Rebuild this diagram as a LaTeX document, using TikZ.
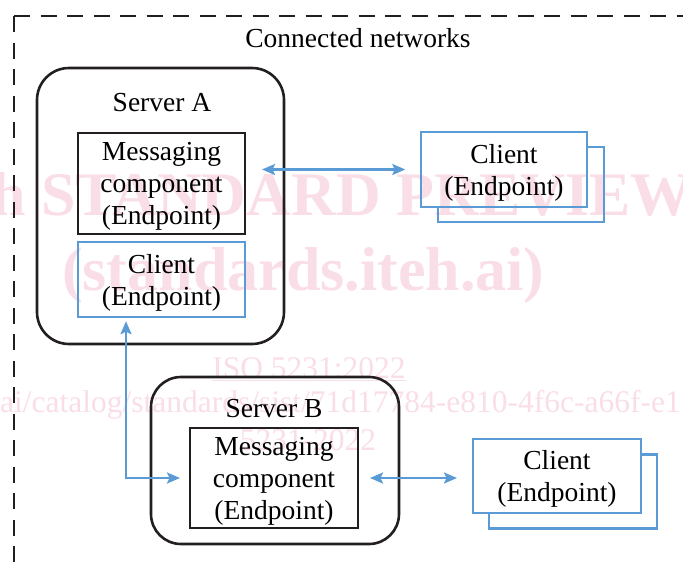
\documentclass[tikz,border=0pt]{standalone}
\usepackage{fontspec}
\setmainfont{Liberation Serif}
\usetikzlibrary{arrows.meta}
\definecolor{linkblue}{RGB}{91,155,213}
\definecolor{ink}{RGB}{35,31,32}
\definecolor{wmpink}{RGB}{250,222,231}

\begin{document}
\begin{tikzpicture}[x=1pt,y=-1pt,
  lbl/.style={font=\fontsize{27.5}{32}\selectfont, align=center, inner sep=0pt},
  boxtext/.style={lbl, text depth=-3pt},
  server/.style={draw=ink, line width=2.6pt, rounded corners=32pt, inner sep=0pt},
  msgbox/.style={draw=ink, line width=2.8pt, inner sep=0pt, boxtext},
  clientbox/.style={draw=linkblue, line width=2.4pt, inner sep=0pt, boxtext},
  shadowbox/.style={inner sep=0pt, outer sep=0pt},
  stack/.style={draw=linkblue, line width=2.4pt, line join=miter},
  link/.style={draw=linkblue, line width=2.4pt, >={Stealth[length=13pt,width=11pt,inset=2.5pt]}, <->},
  frame/.style={draw=ink, line width=2.6pt, dash pattern=on 16pt off 10.5pt},
  wm/.style={text=wmpink, inner sep=0pt},
  wmbig/.style={wm, font=\fontsize{62}{62}\selectfont\bfseries},
  wmsmall/.style={wm, font=\fontsize{31.5}{32}\selectfont},
]
\useasboundingbox (0,0) rectangle (683,571);

% background watermark
\begin{scope}
  \clip (0,0) rectangle (683,571);
  \node[wmbig, anchor=base west] (wm1) at (41,215) {\llap{iTeh }STANDARD PREVIEW};
  \node[wmbig, anchor=base west] (wm2) at (62,290) {(standards.iteh.ai)};
  \node[wmsmall, anchor=base] (wm3) at (309,378) {\underline{ISO 5231:2022}};
  \node[wmsmall, anchor=base west] (wm4) at (0,412) {\llap{https://standards.iteh.}ai/catalog/standards/sist/71d17784-e810-4f6c-a66f-e1};
  \node[wmsmall, anchor=base] (wm5) at (308,450) {5231-2022};
\end{scope}

% dashed outline of the connected networks
\coordinate (corner) at (14,16);
\coordinate (frameR) at (700,16);
\coordinate (frameB) at (14,600);
\draw[frame] (corner) -- (frameR);
\draw[frame] (corner) -- (frameB);
\node[lbl] (title) at (358,38) {Connected networks};

% Server A
\node[server, minimum width=247pt, minimum height=276pt] (serverA) at (160.5,206) {};
\node[lbl] (serverAlbl) at (162,103) {Server A};
\node[msgbox, minimum width=167pt, minimum height=101pt] (msgA) at (161.5,183.5)
  {Messaging\\component\\(Endpoint)};
\node[clientbox, minimum width=167pt, minimum height=75pt] (clientA) at (161.5,279.5)
  {Client\\(Endpoint)};

% stacked clients, upper right
\node[shadowbox, minimum width=166pt, minimum height=75pt] (clientTRb) at (521,184.5) {};
\node[clientbox, minimum width=166pt, minimum height=75pt] (clientTR) at (504,169.5)
  {Client\\(Endpoint)};
\draw[stack] (clientTR.north east |- clientTRb.north) -- (clientTRb.north east)
  -- (clientTRb.south east) -- (clientTRb.south west) -- (clientTRb.south west |- clientTR.south);

% Server B
\node[server, minimum width=248pt, minimum height=167pt, rounded corners=30pt] (serverB) at (275,460.5) {};
\node[lbl] (serverBlbl) at (274,409) {Server B};
\node[msgbox, minimum width=168pt, minimum height=100pt] (msgB) at (274,478)
  {Messaging\\component\\(Endpoint)};

% stacked clients, lower right
\node[shadowbox, minimum width=168pt, minimum height=74pt] (clientBb) at (573,491.5) {};
\node[clientbox, minimum width=168pt, minimum height=74pt] (clientB) at (557,476)
  {Client\\(Endpoint)};
\draw[stack] (clientB.north east |- clientBb.north) -- (clientBb.north east)
  -- (clientBb.south east) -- (clientBb.south west) -- (clientBb.south west |- clientB.south);

% connections
\draw[link, shorten <=15.6pt, shorten >=14.5pt] (msgA.east |- clientTR.west) -- (clientTR.west);
\draw[link, shorten <=3pt, shorten >=8.6pt] ([xshift=-35.5pt]clientA.south) |- (msgB.west);
\draw[link, shorten <=10.6pt, shorten >=14.8pt] (msgB.east) -- (msgB.east -| clientB.west);
\end{tikzpicture}
\end{document}
